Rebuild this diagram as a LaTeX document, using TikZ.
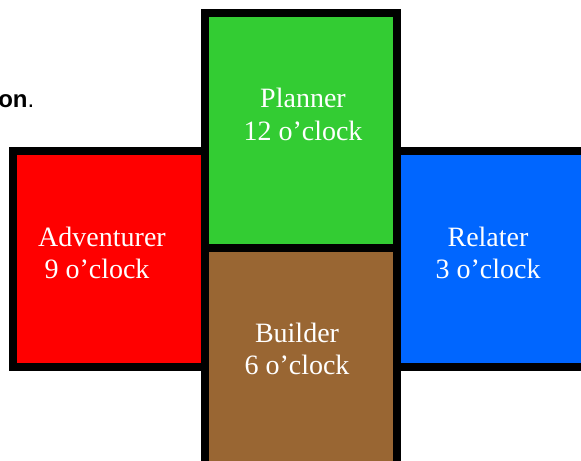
\documentclass[tikz,border=0pt]{standalone}
\usepackage{fontspec}
\setmainfont{Liberation Serif}
\newfontfamily\arialfont{Liberation Sans}
\definecolor{advred}{HTML}{FF0000}
\definecolor{plangreen}{HTML}{33CC33}
\definecolor{buildbrown}{HTML}{996633}
\definecolor{relblue}{HTML}{0066FF}
\begin{document}
\begin{tikzpicture}[x=0.75pt,y=-0.75pt,
  quad/.style={draw=black,line width=6pt,fill=#1,rectangle,inner sep=0pt,
    minimum width=144pt},
  lbl/.style={text=white,font=\fontsize{21}{24}\selectfont,anchor=base,inner sep=0pt}]
\useasboundingbox (0,0) rectangle (581,460);
\clip (0,0) rectangle (581,460);
% boxes
\node[quad=advred,minimum height=162pt] (adv) at (109,259) {};
\node[quad=relblue,minimum height=162pt] (rel) at (493,259) {};
\node[quad=plangreen,minimum height=176.25pt] (plan) at (301,130.5) {};
\node[quad=buildbrown,minimum height=176.25pt] (build) at (301,365.5) {};
% labels
\node[lbl] (plan1) at (303,107) {Planner};
\node[lbl] (plan2) at (303,140) {12 o’clock};
\node[lbl] (adv1) at (102,246) {Adventurer};
\node[lbl] (adv2) at (97,278) {9 o’clock};
\node[lbl] (rel1) at (488,246) {Relater};
\node[lbl] (rel2) at (488,278) {3 o’clock};
\node[lbl] (build1) at (297,342) {Builder};
\node[lbl] (build2) at (297,374) {6 o’clock};
% fragment of text at left
\node[anchor=base west,inner sep=0pt,font=\arialfont\fontsize{18}{20}\selectfont] (frag) at (-2,107) {\textbf{on}.};
\end{tikzpicture}
\end{document}
